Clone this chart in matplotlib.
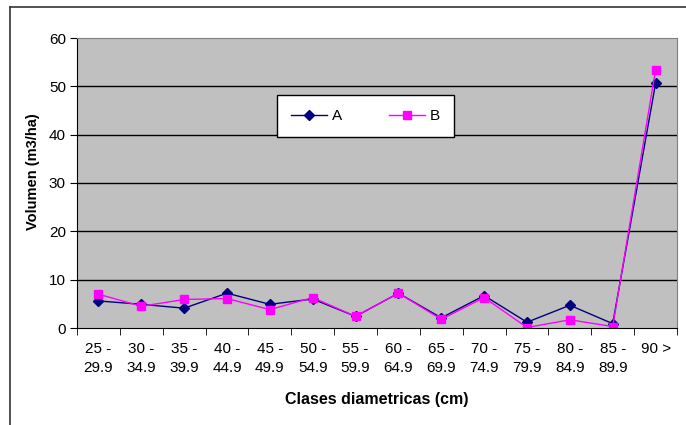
import matplotlib
matplotlib.use("Agg")
import matplotlib.pyplot as plt
from matplotlib.lines import Line2D
import numpy as np

categories = ["25 -\n29.9", "30 -\n34.9", "35 -\n39.9", "40 -\n44.9", "45 -\n49.9",
              "50 -\n54.9", "55 -\n59.9", "60 -\n64.9", "65 -\n69.9", "70 -\n74.9",
              "75 -\n79.9", "80 -\n84.9", "85 -\n89.9", "90 >"]
series_a = [5.6, 4.9, 4.1, 7.2, 4.9, 6.0, 2.4, 7.2, 2.1, 6.7, 1.2, 4.7, 0.9, 50.6]
series_b = [7.0, 4.5, 5.9, 6.1, 3.8, 6.3, 2.4, 7.2, 1.8, 6.3, 0.1, 1.7, 0.3, 53.4]
yticks = [0, 10, 20, 30, 40, 50, 60]

plt.rcParams['font.family'] = ['Liberation Sans', 'DejaVu Sans']

W, H = 686, 425
fig = plt.figure(figsize=(W/100, H/100), dpi=100)
fig.patch.set_facecolor('white')

# outer chart frame
fig.add_artist(Line2D([10/W, 1], [1-7/H, 1-7/H], transform=fig.transFigure, color='#333333', lw=1.2))
fig.add_artist(Line2D([10/W, 10/W], [0, 1-7/H], transform=fig.transFigure, color='#333333', lw=1.2))

ax = fig.add_axes([77/W, (H-328)/H, 600/W, 290/H])
ax.set_facecolor('#C0C0C0')
x = np.arange(len(categories))
ax.plot(x, series_a, color='#000080', marker='D', markersize=5, lw=1, label='A')
ax.plot(x, series_b, color='#FF00FF', marker='s', markersize=6, lw=1, label='B')

ax.set_xlim(-0.5, len(categories) - 0.5)
ax.set_ylim(0, 60)
ax.set_yticks(yticks)
ax.set_yticklabels([str(v) for v in yticks], fontsize=11)
for v in yticks[1:-1]:
    ax.axhline(v, color='black', lw=1, zorder=0.5)

ax.set_xticks(x)
ax.set_xticklabels(categories, fontsize=11, linespacing=1.45, va='top')
ax.tick_params(axis='x', which='major', length=0, pad=10)
ax.set_xticks(np.arange(-0.5, len(categories), 1), minor=True)
ax.tick_params(axis='x', which='minor', length=5, direction='out', color='black')
ax.tick_params(axis='y', length=5, direction='out', color='black', pad=3)

for s in ['top', 'right']:
    ax.spines[s].set_color('#808080')
for s in ['left', 'bottom']:
    ax.spines[s].set_color('black')

ax.set_ylabel('Volumen (m3/ha)', fontsize=10.5, fontweight='bold')
ax.yaxis.set_label_coords(-0.062, 0.54)
ax.set_xlabel('Clases diametricas (cm)', fontsize=11.5, fontweight='bold', labelpad=12)

leg = ax.legend(loc='lower left', bbox_to_anchor=(0.333, 0.659, 0.295, 0.196), mode='expand',
                ncol=2, frameon=True, fancybox=False, fontsize=11, handlelength=2.4,
                handletextpad=0.3, borderaxespad=0, borderpad=0.9)
leg.get_frame().set_edgecolor('black')
leg.get_frame().set_facecolor('white')
leg.get_frame().set_alpha(1)
leg.get_frame().set_linewidth(1)

fig.savefig('out.png', dpi=100)
